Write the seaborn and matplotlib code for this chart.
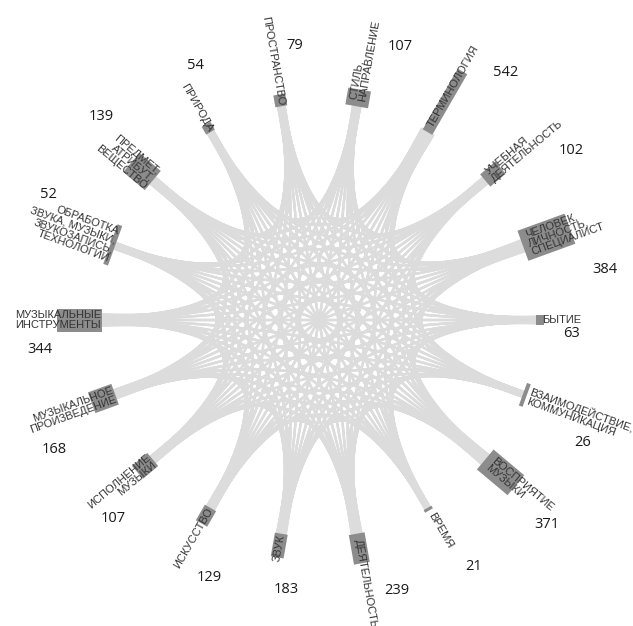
import numpy as np
import pandas as pd
import matplotlib
matplotlib.use('Agg')
import matplotlib.pyplot as plt
import seaborn as sns
from matplotlib.patches import Polygon

# категории (по алфавиту, по часовой стрелке начиная с востока)
categorias = [
    'БЫТИЕ', 'ВЗАИМОДЕЙСТВИЕ,\nКОММУНИКАЦИЯ', 'ВОСПРИЯТИЕ\nМУЗЫКИ', 'ВРЕМЯ',
    'ДЕЯТЕЛЬНОСТЬ', 'ЗВУК', 'ИСКУССТВО', 'ИСПОЛНЕНИЕ\nМУЗЫКИ',
    'МУЗЫКАЛЬНОЕ\nПРОИЗВЕДЕНИЕ', 'МУЗЫКАЛЬНЫЕ\nИНСТРУМЕНТЫ',
    'ОБРАБОТКА\nЗВУКА, МУЗЫКИ,\nЗВУКОЗАПИСЬ,\nТЕХНОЛОГИИ',
    'ПРЕДМЕТ,\nАТРИБУТ,\nВЕЩЕСТВО', 'ПРИРОДА', 'ПРОСТРАНСТВО',
    'СТИЛЬ,\nНАПРАВЛЕНИЕ', 'ТЕРМИНОЛОГИЯ', 'УЧЕБНАЯ\nДЕЯТЕЛЬНОСТЬ',
    'ЧЕЛОВЕК,\nЛИЧНОСТЬ,\nСПЕЦИАЛИСТ',
]
contagens = [63, 26, 371, 21, 239, 183, 129, 107, 168, 344, 52, 139, 54, 79, 107, 542, 102, 384]

# layout (pixels): tamanho dos retangulos e posicao dos numeros
ret_comp = [8, 4, 40, 3, 30, 24, 18, 20, 25, 45, 5, 28, 9, 12, 17, 70, 20, 50]
ret_larg = [10, 24, 26, 9, 16, 13, 13, 17, 22, 23, 42, 25, 10, 12, 23, 11, 16, 32]
num_desvio = [3, 5, 2, -2, -6, -3, -7, -4, -6, -6, 5, 3, 4, 5, 6.5, 7, 6, 10]
num_raio = [253, 291, 306, 291, 281, 272, 280, 286, 295, 281, 298, 298, 283, 276, 285, 310, 304, 290]

n = len(categorias)
cx, cy = 319, 320
r0 = 217
k = 6  # linhas por par

ang = np.radians(90 + 20 * np.arange(n))  # horario a partir do topo
u = np.c_[np.sin(ang), -np.cos(ang)]   # radial
v = np.c_[np.cos(ang), np.sin(ang)]    # tangente (horario)
centro = np.array([cx, cy])
banda = 3 + 0.45 * np.sqrt(np.array(contagens))


def porta(i, j, m):
    s = (j - i - 1) % n
    d = banda[i] * (0.5 - (s * k + m + 0.5) / ((n - 1) * k))
    return centro + r0 * u[i] + d * v[i]


t = np.linspace(0, 1, 40)[:, None]
linhas = []
e = 0
for i in range(n):
    for j in range(i + 1, n):
        for m in range(k):
            p0 = porta(i, j, m)
            p2 = porta(j, i, k - 1 - m)
            b = (1 - t) ** 2 * p0 + 2 * (1 - t) * t * centro + t ** 2 * p2
            linhas.append(pd.DataFrame({'x': b[:, 0], 'y': b[:, 1], 'aresta': e}))
            e += 1
df = pd.concat(linhas, ignore_index=True)

sns.set_theme(style='white')
plt.rcParams['font.family'] = ['Liberation Sans', 'DejaVu Sans']

fig = plt.figure(figsize=(6.33, 6.26), dpi=100)
ax = fig.add_axes([0, 0, 1, 1])
sns.lineplot(data=df, x='x', y='y', units='aresta', estimator=None, sort=False,
             color='#dcdcdc', linewidth=1.6, alpha=0.6, legend=False, ax=ax)

for i in range(n):
    c = centro + r0 * u[i]
    L, W = ret_comp[i], ret_larg[i]
    pts = [c - W / 2 * v[i], c + W / 2 * v[i],
           c + L * u[i] + W / 2 * v[i], c + L * u[i] - W / 2 * v[i]]
    ax.add_patch(Polygon(pts, closed=True, facecolor='#8c8c8c', edgecolor='none', zorder=3))

    phi = 90 - np.degrees(ang[i]) + 360
    if np.sin(ang[i]) > 1e-6:
        rot, ha, rt = phi % 360, 'left', r0 + 6
    else:
        rot, ha, rt = (phi + 180) % 360, 'right', r0 + 1
    pt = centro + rt * u[i]
    ax.text(pt[0], pt[1], categorias[i], rotation=rot, rotation_mode='anchor',
            ha=ha, va='center', fontsize=8, color='#333333', linespacing=0.95, zorder=4)

    a2 = ang[i] + np.radians(num_desvio[i])
    pn = centro + num_raio[i] * np.array([np.sin(a2), -np.cos(a2)])
    ax.text(pn[0], pn[1], str(contagens[i]), ha='center', va='center',
            fontsize=10.5, color='#1a1a1a', family=['Open Sans', 'DejaVu Sans'], zorder=4)

ax.set_xlim(0, 633)
ax.set_ylim(626, 0)
ax.axis('off')
fig.savefig('out.png', dpi=100)
